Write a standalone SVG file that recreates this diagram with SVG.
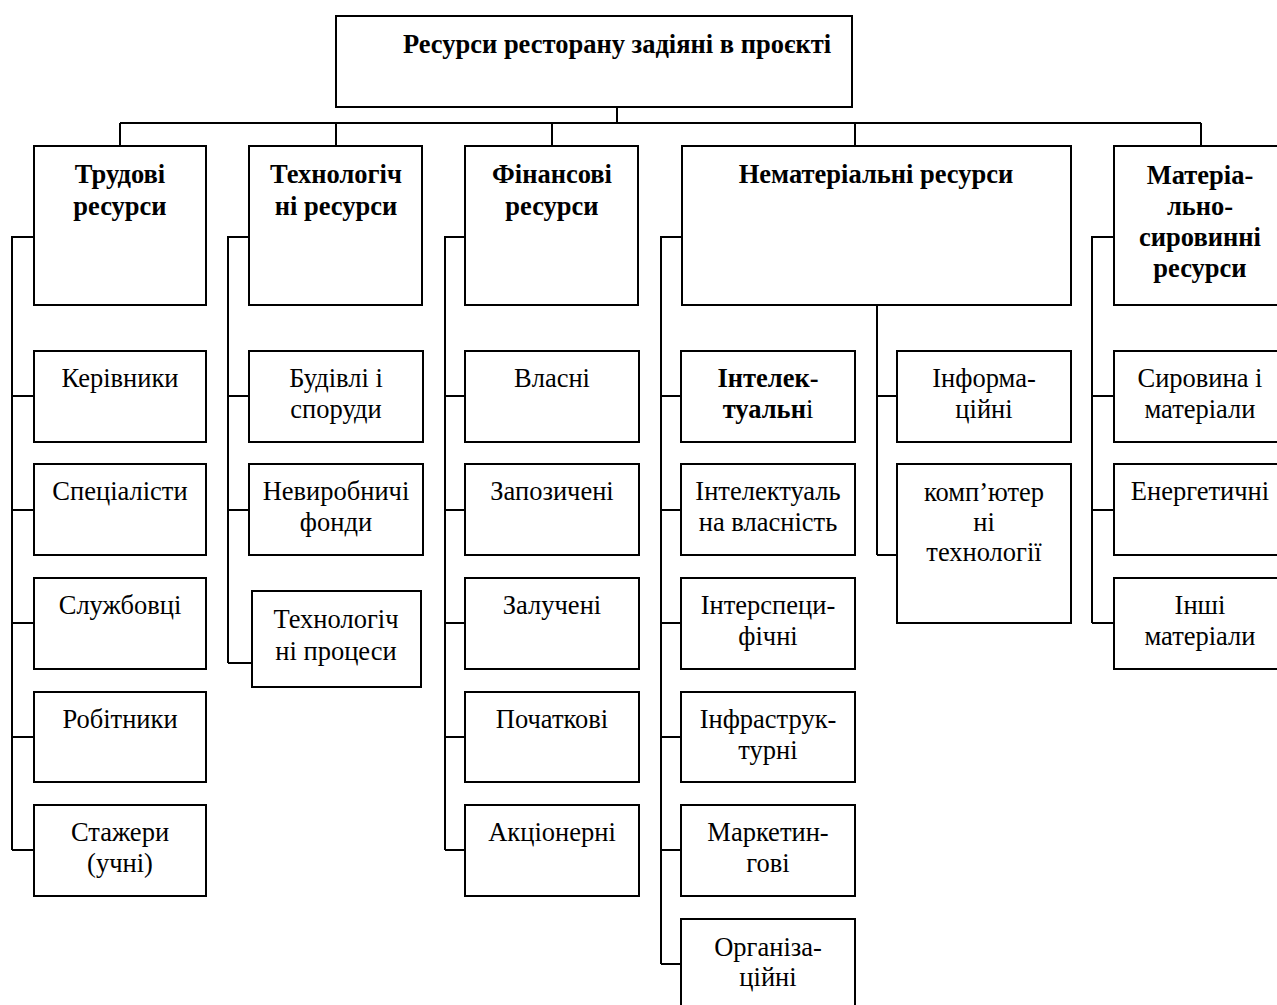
<svg xmlns="http://www.w3.org/2000/svg" width="1277" height="1005" viewBox="0 0 1277 1005">
  <style>
    .box { fill: #fff; stroke: #000; stroke-width: 2; }
    .ln { fill: none; stroke: #000; stroke-width: 2; }
    text { font-family: "Liberation Serif", "Times New Roman", serif; font-size: 26.5px; fill: #000; text-anchor: middle; }
    .b { font-weight: bold; }
    .r { font-weight: normal; }
  </style>
  <rect width="1277" height="1005" fill="#fff"/>

  <!-- connectors -->
  <g id="connectors" class="ln">
    <path d="M617 100 V123 M120 123 H1201 M120 123 V146 M336 123 V146 M552 123 V146 M855 123 V146 M1201 123 V146"/>
    <!-- labour -->
    <path d="M34 237 H12 V850 M12 396 H34 M12 510 H34 M12 623 H34 M12 737 H34 M12 850 H34"/>
    <!-- technology -->
    <path d="M249 237 H228 V663 M228 396 H249 M228 510 H249 M228 663 H252"/>
    <!-- finance -->
    <path d="M465 237 H445 V850 M445 396 H465 M445 510 H465 M445 623 H465 M445 737 H465 M445 850 H465"/>
    <!-- intangible: intellectual -->
    <path d="M682 237 H661 V964 M661 396 H681 M661 510 H681 M661 623 H681 M661 737 H681 M661 850 H681 M661 964 H681"/>
    <!-- intangible: informational -->
    <path d="M877 305 V555 M877 396 H897 M877 555 H897"/>
    <!-- material -->
    <path d="M1114 237 H1092 V623 M1092 396 H1114 M1092 510 H1114 M1092 623 H1114"/>
  </g>

  <!-- root -->
  <g id="root">
    <rect class="box" x="336" y="16" width="516" height="91"/>
    <text class="b" x="617" y="53">Ресурси ресторану задіяні в проєкті</text>
  </g>

  <!-- level 1 -->
  <g id="labour">
    <rect class="box" x="34" y="146" width="172" height="159"/>
    <text class="b" x="120" y="183">Трудові</text>
    <text class="b" x="120" y="215">ресурси</text>
  </g>
  <g id="technology">
    <rect class="box" x="249" y="146" width="173" height="159"/>
    <text class="b" x="336" y="183">Технологіч</text>
    <text class="b" x="336" y="215">ні ресурси</text>
  </g>
  <g id="finance">
    <rect class="box" x="465" y="146" width="173" height="159"/>
    <text class="b" x="552" y="183">Фінансові</text>
    <text class="b" x="552" y="215">ресурси</text>
  </g>
  <g id="intangible">
    <rect class="box" x="682" y="146" width="389" height="159"/>
    <text class="b" x="876" y="183">Нематеріальні ресурси</text>
  </g>
  <g id="material">
    <rect class="box" x="1114" y="146" width="173" height="159"/>
    <text class="b" x="1200" y="184">Матеріа-</text>
    <text class="b" x="1200" y="215">льно-</text>
    <text class="b" x="1200" y="246">сировинні</text>
    <text class="b" x="1200" y="277">ресурси</text>
  </g>

  <!-- labour children -->
  <g id="managers">
    <rect class="box" x="34" y="351" width="172" height="91"/>
    <text x="120" y="387">Керівники</text>
  </g>
  <g id="specialists">
    <rect class="box" x="34" y="464" width="172" height="91"/>
    <text x="120" y="500">Спеціалісти</text>
  </g>
  <g id="employees">
    <rect class="box" x="34" y="578" width="172" height="91"/>
    <text x="120" y="614">Службовці</text>
  </g>
  <g id="workers">
    <rect class="box" x="34" y="692" width="172" height="90"/>
    <text x="120" y="728">Робітники</text>
  </g>
  <g id="trainees">
    <rect class="box" x="34" y="805" width="172" height="91"/>
    <text x="120" y="841">Стажери</text>
    <text x="120" y="872">(учні)</text>
  </g>

  <!-- technology children -->
  <g id="buildings">
    <rect class="box" x="249" y="351" width="174" height="91"/>
    <text x="336" y="387">Будівлі і</text>
    <text x="336" y="418">споруди</text>
  </g>
  <g id="nonprod-funds">
    <rect class="box" x="249" y="464" width="174" height="91"/>
    <text x="336" y="500">Невиробничі</text>
    <text x="336" y="531">фонди</text>
  </g>
  <g id="tech-processes">
    <rect class="box" x="252" y="591" width="169" height="96"/>
    <text x="336" y="628">Технологіч</text>
    <text x="336" y="660">ні процеси</text>
  </g>

  <!-- finance children -->
  <g id="own">
    <rect class="box" x="465" y="351" width="174" height="91"/>
    <text x="552" y="387">Власні</text>
  </g>
  <g id="borrowed">
    <rect class="box" x="465" y="464" width="174" height="91"/>
    <text x="552" y="500">Запозичені</text>
  </g>
  <g id="attracted">
    <rect class="box" x="465" y="578" width="174" height="91"/>
    <text x="552" y="614">Залучені</text>
  </g>
  <g id="initial">
    <rect class="box" x="465" y="692" width="174" height="90"/>
    <text x="552" y="728">Початкові</text>
  </g>
  <g id="equity">
    <rect class="box" x="465" y="805" width="174" height="91"/>
    <text x="552" y="841">Акціонерні</text>
  </g>

  <!-- intangible: intellectual branch -->
  <g id="intellectual">
    <rect class="box" x="681" y="351" width="174" height="91"/>
    <text class="b" x="768" y="387">Інтелек-</text>
    <text x="768" y="418"><tspan class="b">туальн</tspan><tspan class="r">і</tspan></text>
  </g>
  <g id="ip">
    <rect class="box" x="681" y="464" width="174" height="91"/>
    <text x="768" y="500">Інтелектуаль</text>
    <text x="768" y="531">на власність</text>
  </g>
  <g id="interspecific">
    <rect class="box" x="681" y="578" width="174" height="91"/>
    <text x="768" y="614">Інтерспеци-</text>
    <text x="768" y="645">фічні</text>
  </g>
  <g id="infrastructural">
    <rect class="box" x="681" y="692" width="174" height="90"/>
    <text x="768" y="728">Інфраструк-</text>
    <text x="768" y="759">турні</text>
  </g>
  <g id="marketing">
    <rect class="box" x="681" y="805" width="174" height="91"/>
    <text x="768" y="841">Маркетин-</text>
    <text x="768" y="872">гові</text>
  </g>
  <g id="organizational">
    <rect class="box" x="681" y="919" width="174" height="100"/>
    <text x="768" y="956">Організа-</text>
    <text x="768" y="986">ційні</text>
  </g>

  <!-- intangible: informational branch -->
  <g id="informational">
    <rect class="box" x="897" y="351" width="174" height="91"/>
    <text x="984" y="387">Інформа-</text>
    <text x="984" y="418">ційні</text>
  </g>
  <g id="computer-tech">
    <rect class="box" x="897" y="464" width="174" height="159"/>
    <text x="984" y="501">комп’ютер</text>
    <text x="984" y="531">ні</text>
    <text x="984" y="561">технології</text>
  </g>

  <!-- material children -->
  <g id="raw-materials">
    <rect class="box" x="1114" y="351" width="174" height="91"/>
    <text x="1200" y="387">Сировина і</text>
    <text x="1200" y="418">матеріали</text>
  </g>
  <g id="energy">
    <rect class="box" x="1114" y="464" width="174" height="91"/>
    <text x="1200" y="500">Енергетичні</text>
  </g>
  <g id="other-materials">
    <rect class="box" x="1114" y="578" width="174" height="91"/>
    <text x="1200" y="614">Інші</text>
    <text x="1200" y="645">матеріали</text>
  </g>
</svg>
